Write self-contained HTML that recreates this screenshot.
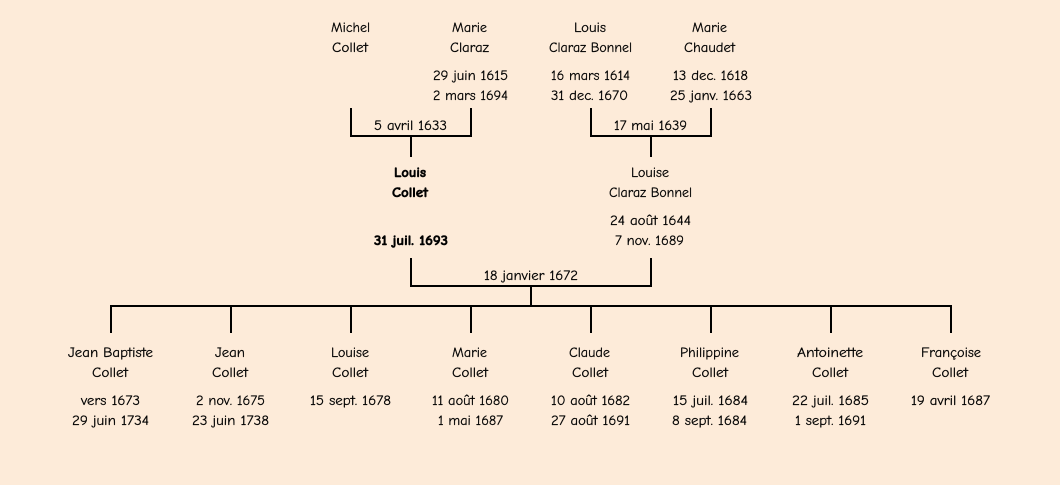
<!DOCTYPE html>
<html lang="fr">
<head>
<meta charset="utf-8">
<title>Louis Collet</title>
<style>
html,body{margin:0;padding:0;width:1060px;height:485px;overflow:hidden;background:#fdebd9}
svg{display:block}
text{font-family:"Comic Sans MS","Comic Neue","Comic Relief",cursive;font-size:14px;fill:#000;stroke:#000;stroke-width:.22px;letter-spacing:0}
text.b{font-weight:bold;fill:#000;stroke-width:.55px}
</style>
</head>
<body>
<svg width="1060" height="485" viewBox="0 0 1060 485" xmlns="http://www.w3.org/2000/svg">
<g fill="#000" shape-rendering="crispEdges">
<rect x="350" y="108" width="2" height="29"/><rect x="470" y="108" width="2" height="29"/><rect x="350" y="135" width="122" height="2"/><rect x="410" y="137" width="2" height="20"/>
<rect x="590" y="108" width="2" height="29"/><rect x="710" y="108" width="2" height="29"/><rect x="590" y="135" width="122" height="2"/><rect x="650" y="137" width="2" height="20"/>
<rect x="410" y="258" width="2" height="29"/><rect x="650" y="258" width="2" height="29"/><rect x="410" y="285" width="242" height="2"/><rect x="530" y="287" width="2" height="18"/>
<rect x="110" y="305" width="842" height="2"/>
<rect x="110" y="307" width="2" height="26"/><rect x="230" y="307" width="2" height="26"/><rect x="350" y="307" width="2" height="26"/><rect x="470" y="307" width="2" height="26"/><rect x="590" y="307" width="2" height="26"/><rect x="710" y="307" width="2" height="26"/><rect x="830" y="307" width="2" height="26"/><rect x="950" y="307" width="2" height="26"/>
</g>
<g>
<text x="331" y="32" textLength="39" lengthAdjust="spacingAndGlyphs">Michel</text>
<text x="332" y="52" textLength="36" lengthAdjust="spacingAndGlyphs">Collet</text>
<text x="452" y="32" textLength="35" lengthAdjust="spacingAndGlyphs">Marie</text>
<text x="450" y="52" textLength="39" lengthAdjust="spacingAndGlyphs">Claraz</text>
<text x="574" y="32" textLength="32" lengthAdjust="spacingAndGlyphs">Louis</text>
<text x="549" y="52" textLength="83" lengthAdjust="spacingAndGlyphs">Claraz Bonnel</text>
<text x="692" y="32" textLength="35" lengthAdjust="spacingAndGlyphs">Marie</text>
<text x="684" y="52" textLength="51" lengthAdjust="spacingAndGlyphs">Chaudet</text>

<text x="433" y="80" textLength="75" lengthAdjust="spacingAndGlyphs">29 juin 1615</text>
<text x="433" y="100" textLength="75" lengthAdjust="spacingAndGlyphs">2 mars 1694</text>
<text x="551" y="80" textLength="79" lengthAdjust="spacingAndGlyphs">16 mars 1614</text>
<text x="551" y="100" textLength="77" lengthAdjust="spacingAndGlyphs">31 dec. 1670</text>
<text x="673" y="80" textLength="75" lengthAdjust="spacingAndGlyphs">13 dec. 1618</text>
<text x="670" y="100" textLength="82" lengthAdjust="spacingAndGlyphs">25 janv. 1663</text>

<text x="374" y="130" textLength="73" lengthAdjust="spacingAndGlyphs">5 avril 1633</text>
<text x="614" y="130" textLength="73" lengthAdjust="spacingAndGlyphs">17 mai 1639</text>

<text class="b" x="394" y="177" textLength="32" lengthAdjust="spacingAndGlyphs">Louis</text>
<text class="b" x="392" y="197" textLength="36" lengthAdjust="spacingAndGlyphs">Collet</text>
<text class="b" x="374" y="245" textLength="74" lengthAdjust="spacingAndGlyphs">31 juil. 1693</text>
<text x="631" y="177" textLength="38" lengthAdjust="spacingAndGlyphs">Louise</text>
<text x="609" y="197" textLength="83" lengthAdjust="spacingAndGlyphs">Claraz Bonnel</text>
<text x="610" y="225" textLength="81" lengthAdjust="spacingAndGlyphs">24 août 1644</text>
<text x="615" y="245" textLength="69" lengthAdjust="spacingAndGlyphs">7 nov. 1689</text>
<text x="484" y="280" textLength="94" lengthAdjust="spacingAndGlyphs">18 janvier 1672</text>

<text x="68" y="357" textLength="85" lengthAdjust="spacingAndGlyphs">Jean Baptiste</text>
<text x="92" y="377" textLength="36" lengthAdjust="spacingAndGlyphs">Collet</text>
<text x="81" y="405" textLength="59" lengthAdjust="spacingAndGlyphs">vers 1673</text>
<text x="72" y="425" textLength="77" lengthAdjust="spacingAndGlyphs">29 juin 1734</text>

<text x="215" y="357" textLength="30" lengthAdjust="spacingAndGlyphs">Jean</text>
<text x="212" y="377" textLength="36" lengthAdjust="spacingAndGlyphs">Collet</text>
<text x="196" y="405" textLength="69" lengthAdjust="spacingAndGlyphs">2 nov. 1675</text>
<text x="192" y="425" textLength="77" lengthAdjust="spacingAndGlyphs">23 juin 1738</text>

<text x="331" y="357" textLength="38" lengthAdjust="spacingAndGlyphs">Louise</text>
<text x="332" y="377" textLength="36" lengthAdjust="spacingAndGlyphs">Collet</text>
<text x="310" y="405" textLength="81" lengthAdjust="spacingAndGlyphs">15 sept. 1678</text>

<text x="452" y="357" textLength="35" lengthAdjust="spacingAndGlyphs">Marie</text>
<text x="452" y="377" textLength="36" lengthAdjust="spacingAndGlyphs">Collet</text>
<text x="432" y="405" textLength="77" lengthAdjust="spacingAndGlyphs">11 août 1680</text>
<text x="438" y="425" textLength="65" lengthAdjust="spacingAndGlyphs">1 mai 1687</text>

<text x="569" y="357" textLength="41" lengthAdjust="spacingAndGlyphs">Claude</text>
<text x="572" y="377" textLength="36" lengthAdjust="spacingAndGlyphs">Collet</text>
<text x="551" y="405" textLength="79" lengthAdjust="spacingAndGlyphs">10 août 1682</text>
<text x="551" y="425" textLength="79" lengthAdjust="spacingAndGlyphs">27 août 1691</text>

<text x="680" y="357" textLength="59" lengthAdjust="spacingAndGlyphs">Philippine</text>
<text x="692" y="377" textLength="36" lengthAdjust="spacingAndGlyphs">Collet</text>
<text x="673" y="405" textLength="75" lengthAdjust="spacingAndGlyphs">15 juil. 1684</text>
<text x="672" y="425" textLength="75" lengthAdjust="spacingAndGlyphs">8 sept. 1684</text>

<text x="797" y="357" textLength="66" lengthAdjust="spacingAndGlyphs">Antoinette</text>
<text x="812" y="377" textLength="36" lengthAdjust="spacingAndGlyphs">Collet</text>
<text x="792" y="405" textLength="77" lengthAdjust="spacingAndGlyphs">22 juil. 1685</text>
<text x="795" y="425" textLength="71" lengthAdjust="spacingAndGlyphs">1 sept. 1691</text>

<text x="921" y="357" textLength="60" lengthAdjust="spacingAndGlyphs">Françoise</text>
<text x="932" y="377" textLength="36" lengthAdjust="spacingAndGlyphs">Collet</text>
<text x="911" y="405" textLength="79" lengthAdjust="spacingAndGlyphs">19 avril 1687</text>
</g>
</svg>
</body>
</html>
